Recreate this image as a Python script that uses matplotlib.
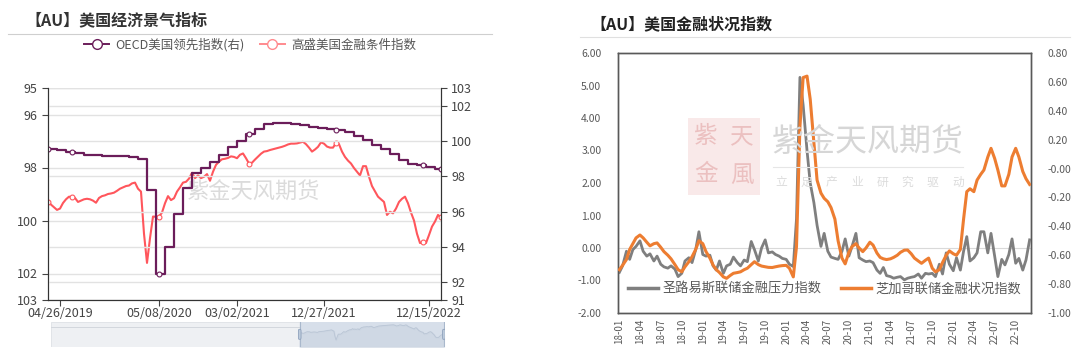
import numpy as np
import pandas as pd
import matplotlib
matplotlib.use("Agg")
import matplotlib.pyplot as plt
import matplotlib.dates as mdates
from matplotlib.lines import Line2D
from matplotlib.patches import Rectangle, FancyBboxPatch

plt.rcParams['font.family'] = ['Noto Sans CJK SC', 'DejaVu Sans']

# ---- left chart data (category axis, one sample per step) ----
gs_fci = [99.29, 99.4, 99.5, 99.6, 99.55, 99.34, 99.2, 99.1, 99.12, 99.15,
          99.3, 99.25, 99.2, 99.18, 99.2, 99.25, 99.33, 99.15, 99.08, 99.05,
          99.0, 98.98, 98.95, 98.88, 98.8, 98.75, 98.7, 98.68, 98.6, 98.57,
          98.8, 98.91, 100.5, 101.6, 100.67, 99.85, 99.86, 99.85, 99.7, 99.35,
          99.08, 99.23, 99.16, 98.91, 98.75, 98.57, 98.54, 98.42, 98.2, 98.4,
          98.3, 98.4, 98.35, 98.25, 98.5, 98.16, 97.9, 97.78, 97.69, 97.67,
          97.64, 97.58, 97.6, 97.65, 97.52, 97.47, 97.65, 97.85, 97.82, 97.7,
          97.59, 97.48, 97.4, 97.38, 97.34, 97.31, 97.28, 97.25, 97.22, 97.18,
          97.13, 97.1, 97.1, 97.09, 97.06, 97.03, 97.12, 97.25, 97.4, 97.32,
          97.22, 97.05, 97.1, 97.21, 97.25, 97.25, 97.08, 97.12, 97.4, 97.6,
          97.74, 97.85, 98.02, 98.16, 98.3, 97.95, 97.95, 98.35, 98.7, 98.9,
          99.1, 99.2, 99.3, 99.79, 99.67, 99.73, 99.55, 99.3, 99.18, 99.1,
          99.35, 99.7, 100.0, 100.5, 100.85, 100.82, 100.85, 100.55, 100.23, 100.04,
          99.79, 99.88]

oecd_monthly = [99.57, 99.5, 99.4, 99.3, 99.22, 99.18, 99.16, 99.15, 99.13, 99.1,
                98.98, 97.2, 92.47, 94.0, 95.87, 97.34, 98.2, 98.5, 98.8, 99.2,
                99.68, 100.0, 100.38, 100.66, 100.94, 101.02, 101.02, 100.98, 100.9, 100.82,
                100.75, 100.7, 100.62, 100.5, 100.3, 100.05, 99.8, 99.55, 99.25, 98.95,
                98.68, 98.62, 98.52, 98.42]

left_tick_idx = [4, 37, 63, 92, 127]
left_tick_labels = ['04/26/2019', '05/08/2020', '03/02/2021', '12/27/2021', '12/15/2022']
marker_idx = [0, 8, 37, 67, 96, 125, 131]

# ---- right chart data (semi-monthly from 2018-01) ----
stl_fsi = [-0.75, -0.55, -0.10, -0.35, -0.05, 0.05, 0.22, -0.10, -0.25, -0.18,
           -0.40, -0.25, -0.50, -0.58, -0.62, -0.55, -0.65, -0.88, -0.78, -0.40,
           -0.30, -0.45, -0.05, 0.50, -0.20, -0.25, -0.22, -0.55, -0.68, -0.40,
           -0.78, -0.55, -0.50, -0.28, -0.45, -0.55, -0.37, -0.42, 0.20, -0.05,
           -0.40, 0.00, 0.25, -0.15, -0.12, -0.20, -0.25, -0.32, -0.35, -0.50,
           -0.57, 0.90, 5.25, 4.40, 3.00, 2.00, 1.40, 0.70, 0.05, 0.45,
           -0.10, -0.28, -0.32, -0.35, -0.10, 0.28, -0.25, 0.05, 0.45, -0.30,
           -0.37, -0.42, -0.40, -0.45, -0.68, -0.78, -0.60, -0.85, -0.88, -0.93,
           -0.90, -0.88, -0.98, -0.93, -0.90, -0.88, -0.80, -0.93, -0.78, -0.80,
           -0.78, -0.88, -0.50, -0.80, -0.15, -0.50, -0.70, -0.30, -0.68, -0.10,
           0.35, -0.40, -0.30, -0.15, 0.50, 0.50, -0.15, 0.45, -0.25, -0.88,
           -0.35, -0.52, -0.20, 0.28, -0.47, -0.32, -0.68, -0.37, 0.25]

nfci = [-0.70, -0.67, -0.63, -0.56, -0.52, -0.48, -0.46, -0.48, -0.51, -0.535,
        -0.52, -0.515, -0.545, -0.575, -0.60, -0.625, -0.665, -0.70, -0.715, -0.68,
        -0.645, -0.61, -0.56, -0.50, -0.52, -0.575, -0.62, -0.668, -0.70, -0.72,
        -0.75, -0.76, -0.74, -0.725, -0.72, -0.715, -0.70, -0.69, -0.665, -0.645,
        -0.665, -0.675, -0.68, -0.684, -0.685, -0.68, -0.675, -0.672, -0.67, -0.69,
        -0.75, -0.54, 0.29, 0.63, 0.64, 0.48, 0.18, -0.08, -0.17, -0.206,
        -0.23, -0.27, -0.35, -0.50, -0.62, -0.66, -0.58, -0.54, -0.52, -0.55,
        -0.575, -0.55, -0.51, -0.53, -0.585, -0.615, -0.625, -0.63, -0.625, -0.615,
        -0.60, -0.58, -0.565, -0.564, -0.59, -0.62, -0.64, -0.656, -0.635, -0.62,
        -0.69, -0.715, -0.70, -0.65, -0.60, -0.57, -0.59, -0.60, -0.56, -0.35,
        -0.16, -0.14, -0.16, -0.08, -0.04, -0.01, 0.08, 0.14, 0.07, -0.01,
        -0.12, -0.12, -0.04, 0.08, 0.14, 0.08, -0.02, -0.07, -0.11]

dates = pd.date_range('2018-01-01', periods=len(stl_fsi), freq='SMS')

fig = plt.figure(figsize=(10.8, 3.54), dpi=100)
fig.patch.set_facecolor('white')

# ================= left chart =================
fig.text(25 / 1080, 1 - 20 / 354, '【AU】美国经济景气指标', fontsize=11.5,
         fontweight='bold', color='#333333', va='center', ha='left')
fig.add_artist(Line2D([8 / 1080, 492 / 1080], [1 - 34 / 354] * 2, color='#cfcfcf', lw=0.8))

ax1 = fig.add_axes([48 / 1080, 1 - 300 / 354, 393 / 1080, 212 / 354])
ax1r = ax1.twinx()
x_idx = np.arange(len(gs_fci))
oecd = np.repeat(oecd_monthly, 3)[:len(gs_fci)]

red = '#ff565c'
purple = '#6b1d5a'
ax1.plot(x_idx, gs_fci, color=red, lw=1.5, marker='o', ms=3.5, mfc='white',
         mec=red, mew=0.8, markevery=marker_idx)
ax1r.plot(x_idx, oecd, color=purple, lw=1.6, drawstyle='steps-post', marker='o',
          ms=3.5, mfc='white', mec=purple, mew=0.8, markevery=marker_idx)

ax1.set_ylim(103, 95)
ax1.set_yticks([95, 96, 98, 100, 102, 103])
ax1r.set_ylim(91, 103)
ax1r.set_yticks([91, 92, 94, 96, 98, 100, 102, 103])
ax1.set_xlim(0, len(gs_fci) - 1)
ax1.set_xticks(left_tick_idx)
ax1.set_xticklabels(left_tick_labels)

for a in (ax1, ax1r):
    a.grid(axis='y', color='#e2e2e2', lw=1)
    a.set_axisbelow(True)
    a.spines['top'].set_visible(False)
    for s in ('left', 'right', 'bottom'):
        a.spines[s].set_color('#333333')
    a.tick_params(labelsize=9, colors='#444444', length=4, width=0.8)
ax1.tick_params(axis='x', pad=1)

ax1.text(0.52, 0.51, '紫金天风期货', transform=ax1.transAxes, fontsize=16,
         color='#cccccc', alpha=0.7, ha='center', va='center')

h1 = Line2D([], [], color=purple, lw=1.4, marker='o', ms=7, mfc='white', mec=purple)
h2 = Line2D([], [], color='#ff8a8e', lw=1.4, marker='o', ms=7, mfc='white', mec='#ff8a8e')
fig.legend([h1, h2], ['OECD美国领先指数(右)', '高盛美国金融条件指数'],
           loc='center', bbox_to_anchor=(250 / 1080, 1 - 45 / 354), ncol=2,
           frameon=False, fontsize=9, handlelength=2.0, columnspacing=1.2,
           handletextpad=0.5, labelcolor='#555555')

# dataZoom slider
axs = fig.add_axes([51 / 1080, 1 - 347 / 354, 394 / 1080, 25 / 354])
full_len = int(len(gs_fci) / (1 - 249 / 394))
start = len(gs_fci) - full_len
axs.set_xlim(start, len(gs_fci))
axs.set_ylim(-103.7, -96.2)
axs.add_patch(Rectangle((start, -103.7), full_len, 7.5, facecolor='#eef0f3',
                        edgecolor='#dde1e6', lw=0.6, zorder=0))
axs.add_patch(Rectangle((0, -103.7), len(gs_fci) - 1, 7.5, color='#d7dfea', zorder=1))
axs.plot([start, 0], [-97.6, -97.6], color='#d3d7dd', lw=0.7, zorder=2)
axs.fill_between(x_idx, -np.array(gs_fci), -103.7, color='#c8d2df', alpha=0.5, zorder=2)
axs.plot(x_idx, -np.array(gs_fci), color='#b9c5d5', lw=0.6, zorder=3)
for hx in (0, len(gs_fci) - 1):
    axs.axvline(hx, color='#a9b8cc', lw=0.8, zorder=4)
    axs.add_patch(FancyBboxPatch((hx - 1.2, -101.4), 2.4, 3.0,
                                 boxstyle='round,pad=0,rounding_size=0.6',
                                 facecolor='#bccadb', edgecolor='#8fa2bc', lw=0.6, zorder=5))
axs.axis('off')

# ================= right chart =================
fig.text(590 / 1080, 1 - 24 / 354, '【AU】美国金融状况指数', fontsize=11.5,
         fontweight='bold', color='#222222', va='center', ha='left')
fig.add_artist(Line2D([580 / 1080, 1070 / 1080], [1 - 37 / 354] * 2, color='#e0e0e0', lw=0.8))

ax2 = fig.add_axes([618 / 1080, 1 - 313 / 354, 413 / 1080, 260 / 354])
ax2r = ax2.twinx()

gray = '#7f7f7f'
orange = '#ed7d31'
ax2.axhline(0, color='#d9d9d9', lw=0.8, zorder=1)
ax2.plot(dates, stl_fsi, color=gray, lw=2.0, zorder=3)
ax2r.plot(dates, nfci, color=orange, lw=2.2, zorder=3)

ax2.set_ylim(-2, 6)
ax2.set_yticks(np.arange(-2, 7, 1))
ax2.yaxis.set_major_formatter(matplotlib.ticker.FormatStrFormatter('%.2f'))
ax2r.set_ylim(-1.0, 0.8)
ax2r.set_yticks(np.round(np.arange(-1.0, 0.81, 0.2), 2))
ax2r.yaxis.set_major_formatter(matplotlib.ticker.FormatStrFormatter('%.2f'))
ax2.set_xlim(dates[0] - pd.Timedelta(days=6), dates[-1] + pd.Timedelta(days=6))
ax2.xaxis.set_major_locator(mdates.MonthLocator(bymonth=[1, 4, 7, 10]))
ax2.xaxis.set_major_formatter(mdates.DateFormatter('%y-%m'))

for a in (ax2, ax2r):
    for s in a.spines.values():
        s.set_color('#595959')
        s.set_linewidth(1.0)
    a.tick_params(labelsize=7.5, colors='#595959', length=0, pad=12)
ax2.tick_params(axis='x', rotation=90, labelsize=7, pad=4, length=0)

# watermark
fig.add_artist(Rectangle((688 / 1080, 1 - 195 / 354), 72 / 1080, 77 / 354,
                         facecolor='#f2cfcf', alpha=0.45, edgecolor='none'))
for t, (tx, ty) in zip(['紫', '天', '金', '風'],
                       [(706, 137), (742, 137), (706, 175), (742, 175)]):
    fig.text(tx / 1080, 1 - ty / 354, t, fontsize=17, color='#e3a5a5', alpha=0.6,
             ha='center', va='center')
fig.text(868 / 1080, 1 - 142 / 354, '紫金天风期货', fontsize=23, color='#d6d6d6',
         ha='center', va='center')
fig.add_artist(Line2D([773 / 1080, 963 / 1080], [1 - 167 / 354] * 2, color='#e6e6e6', lw=0.8))
for k, ch in enumerate('立足产业研究驱动'):
    fig.text((781 + k * 25.3) / 1080, 1 - 182 / 354, ch, fontsize=8.5,
             color='#dcdcdc', ha='center', va='center')

lg = [Line2D([], [], color=gray, lw=2.5), Line2D([], [], color=orange, lw=2.5)]
ax2.legend(lg, ['圣路易斯联储金融压力指数', '芝加哥联储金融状况指数'], loc='lower center',
           bbox_to_anchor=(0.5, 0.02), ncol=2, frameon=False, fontsize=9.5,
           handlelength=2.3, columnspacing=1.5, handletextpad=0.3, labelcolor='#595959')

fig.savefig('out.png', dpi=100)
